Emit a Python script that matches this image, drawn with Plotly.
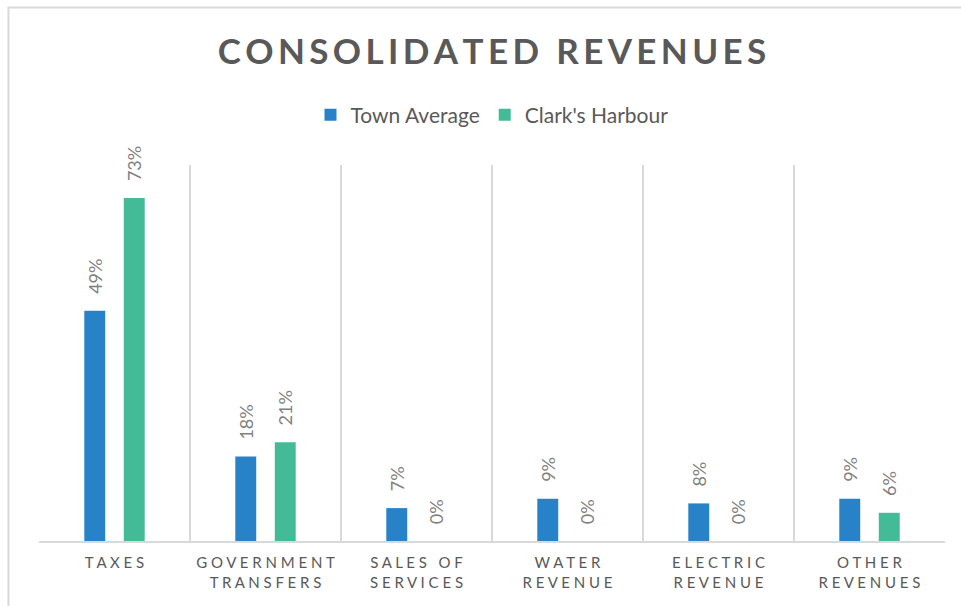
import plotly.graph_objects as go

# Revenue categories and shares (fraction of total consolidated revenue)
categories = ["TAXES", "GOVERNMENT|TRANSFERS", "SALES OF|SERVICES",
              "WATER|REVENUE", "ELECTRIC|REVENUE", "OTHER|REVENUES"]
town_average = [0.49, 0.18, 0.07, 0.09, 0.08, 0.09]
clarks_harbour = [0.73, 0.21, 0.00, 0.00, 0.00, 0.06]

series_names = ["Town Average", "Clark's Harbour"]
colors = ["#2882C8", "#43BB96"]

FONT = "Lato"
GRAY = "#595959"
GRID = "#D9D9D9"


def tracked(text, gap="\u2009", word_gap="\u00a0"):
    """Spread letters apart to emulate wide letter spacing."""
    words = text.split(" ")
    return (gap + word_gap + gap).join(gap.join(w) for w in words)


tick_text = ["<br>".join(tracked(part, " ", "\u00a0") for part in c.split("|")) for c in categories]
x_keys = [c.replace("|", " ") for c in categories]

fig = go.Figure()
for name, vals, col in zip(series_names, [town_average, clarks_harbour], colors):
    fig.add_trace(go.Bar(
        name=name, x=x_keys, y=vals,
        marker=dict(color=col, line=dict(width=0)),
        texttemplate="\u00a0\u00a0\u00a0%{y:.0%}",
        textposition="outside", textangle=-90, constraintext="none",
        textfont=dict(family=FONT, size=18, color="#7F7F7F"),
        cliponaxis=False,
    ))

# chart frame
fig.add_shape(type="rect", xref="paper", yref="paper",
              x0=-0.0337, x1=1.2, y0=-0.6, y1=1.419,
              line=dict(color=GRID, width=2), fillcolor="rgba(0,0,0,0)", layer="below")

fig.update_layout(
    width=961, height=606,
    margin=dict(l=39, r=16, t=165, b=65),
    paper_bgcolor="white", plot_bgcolor="white",
    barmode="group", bargap=0.477, bargroupgap=0.47,
    title=dict(text=tracked("CONSOLIDATED REVENUES", "\u2009", " "),
               xref="paper", x=0.5, xanchor="center", y=1 - 52 / 606, yanchor="middle",
               font=dict(family=FONT, size=35, color=GRAY, weight="bold")),
    legend=dict(orientation="h", x=0.5, xanchor="center", y=1.133, yanchor="middle",
                font=dict(family=FONT, size=21, color=GRAY),
                itemwidth=30, itemsizing="constant", traceorder="normal"),
    showlegend=True,
    xaxis=dict(tickmode="array", tickvals=x_keys, ticktext=tick_text,
               tickson="boundaries", showgrid=True, gridcolor=GRID, gridwidth=1.5,
               showline=True, linecolor=GRID, linewidth=2,
               ticks="", ticklabelstandoff=7,
               tickfont=dict(family=FONT, size=15, color=GRAY)),
    yaxis=dict(range=[0, 0.8], showgrid=False, showticklabels=False,
               zeroline=False, showline=False, fixedrange=True),
)

fig.write_html("out.html")
